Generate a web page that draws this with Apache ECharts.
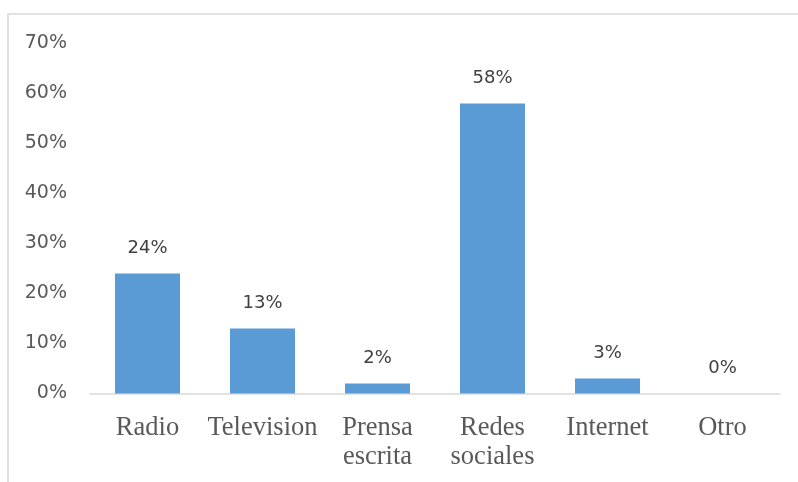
<!DOCTYPE html>
<html>
<head>
<meta charset="utf-8">
<script src="https://cdn.jsdelivr.net/npm/echarts@6/dist/echarts.min.js"></script>
<style>
  html, body { margin: 0; padding: 0; background: #ffffff; }
  #chart { width: 798px; height: 482px; }
</style>
</head>
<body>
<div id="chart"></div>
<script>
// Medio por el que se informa la población (porcentaje)
const categories = ['Radio', 'Television', 'Prensa\nescrita', 'Redes\nsociales', 'Internet', 'Otro'];
const percentages = [24, 13, 2, 58, 3, 0];
const yTicks = [0, 10, 20, 30, 40, 50, 60, 70];

const chart = echarts.init(document.getElementById('chart'), null, { renderer: 'canvas' });

chart.setOption({
  backgroundColor: '#ffffff',
  animation: false,
  graphic: [{
    type: 'rect',
    shape: { x: 8, y: 14, width: 820, height: 500 },
    style: { fill: 'none', stroke: '#d9d9d9', lineWidth: 1.5 },
    silent: true
  }],
  grid: { left: 90, right: 18, top: 43.5, bottom: 88.5 },
  xAxis: {
    type: 'category',
    data: categories,
    axisLine: { lineStyle: { color: '#d9d9d9', width: 1.5 } },
    axisTick: { show: false },
    axisLabel: {
      interval: 0,
      margin: 20,
      color: '#595959',
      fontFamily: 'Liberation Serif',
      fontSize: 26.5,
      lineHeight: 29
    }
  },
  yAxis: {
    type: 'value',
    min: yTicks[0],
    max: yTicks[yTicks.length - 1],
    interval: 10,
    splitLine: { show: false },
    axisLine: { show: false },
    axisTick: { show: false },
    axisLabel: {
      margin: 23,
      color: '#595959',
      fontFamily: 'DejaVu Sans',
      fontSize: 19,
      formatter: v => v + '%'
    }
  },
  series: [{
    type: 'bar',
    data: percentages,
    barWidth: 65,
    itemStyle: { color: '#5b9bd5' },
    label: {
      show: true,
      position: 'top',
      distance: 16,
      color: '#404040',
      fontFamily: 'DejaVu Sans',
      fontSize: 18,
      formatter: p => p.value + '%'
    }
  }]
});
</script>
</body>
</html>
